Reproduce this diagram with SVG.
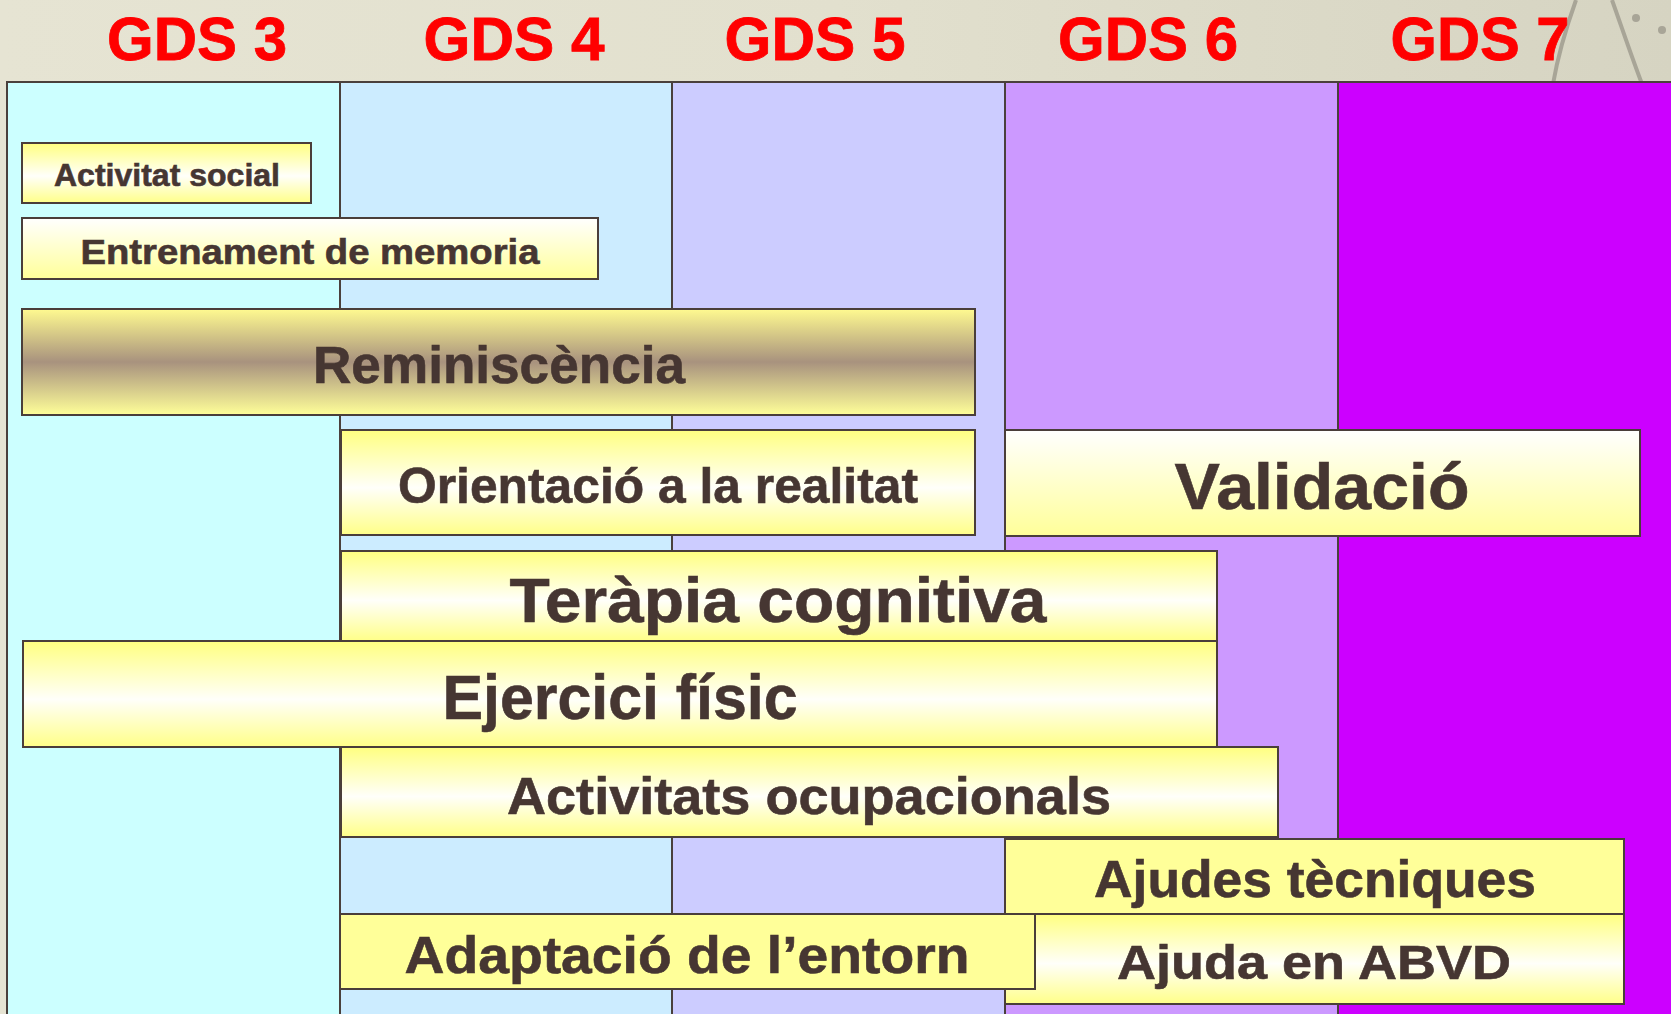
<svg xmlns="http://www.w3.org/2000/svg" width="1671" height="1014" viewBox="0 0 1671 1014">
  <defs>
    <linearGradient id="bg" x1="0" y1="0" x2="1" y2="0">
      <stop offset="0" stop-color="#E6E4D3"/>
      <stop offset="0.5" stop-color="#E2E0CE"/>
      <stop offset="1" stop-color="#D6D4C2"/>
    </linearGradient>
    <linearGradient id="yw" x1="0" y1="0" x2="0" y2="1">
      <stop offset="0" stop-color="#FFFF80"/>
      <stop offset="0.55" stop-color="#FFFFFA"/>
      <stop offset="1" stop-color="#FFFF88"/>
    </linearGradient>
    <linearGradient id="wy" x1="0" y1="0" x2="0" y2="1">
      <stop offset="0" stop-color="#FFFFFF"/>
      <stop offset="1" stop-color="#FFFF99"/>
    </linearGradient>
    <linearGradient id="rem" x1="0" y1="0" x2="0" y2="1">
      <stop offset="0" stop-color="#FFFA90"/>
      <stop offset="0.5" stop-color="#A8927E"/>
      <stop offset="1" stop-color="#FFFF99"/>
    </linearGradient>
    <style>
      .col { stroke: #4A403C; stroke-width: 2; }
      .box { stroke: #4A3E3A; stroke-width: 2; }
      .flat { fill: #FFFF99; }
      .hdr { font-family: "Liberation Sans", Arial, sans-serif; font-weight: bold; fill: #FF0000; stroke: #FF0000; stroke-width: 0.8; font-size: 62px; text-anchor: middle; }
      .lbl { font-family: "Liberation Sans", Arial, sans-serif; font-weight: bold; fill: #463632; stroke: #463632; stroke-width: 0.6; text-anchor: middle; }
    </style>
  </defs>

  <rect x="0" y="0" width="1671" height="1014" fill="url(#bg)"/>
  <path d="M1553,84 C1558,55 1566,28 1576,0 M1612,0 C1622,28 1632,58 1642,84" fill="none" stroke="#9C988C" stroke-width="4" opacity="0.8"/>
  <circle cx="1636" cy="18" r="4" fill="#9C988C" opacity="0.8"/>
  <circle cx="1662" cy="30" r="4" fill="#9C988C" opacity="0.8"/>

  <g id="columns">
    <rect class="col" x="7" y="82" width="333" height="940" fill="#CCFFFF"/>
    <rect class="col" x="340" y="82" width="332" height="940" fill="#CCECFF"/>
    <rect class="col" x="672" y="82" width="333" height="940" fill="#CCCCFF"/>
    <rect class="col" x="1005" y="82" width="333" height="940" fill="#CC99FF"/>
    <rect class="col" x="1338" y="82" width="340" height="940" fill="#CC00FF"/>
  </g>

  <g id="headers">
    <text class="hdr" x="197" y="60" textLength="180" lengthAdjust="spacingAndGlyphs">GDS 3</text>
    <text class="hdr" x="514" y="60" textLength="181" lengthAdjust="spacingAndGlyphs">GDS 4</text>
    <text class="hdr" x="815" y="60" textLength="181" lengthAdjust="spacingAndGlyphs">GDS 5</text>
    <text class="hdr" x="1148" y="60" textLength="180" lengthAdjust="spacingAndGlyphs">GDS 6</text>
    <text class="hdr" x="1480" y="60" textLength="179" lengthAdjust="spacingAndGlyphs">GDS 7</text>
  </g>

  <g id="connectors"></g>

  <g id="activitat-social">
    <rect class="box" x="22" y="143" width="289" height="60" fill="url(#yw)"/>
    <text class="lbl" x="167" y="186" font-size="31" textLength="226" lengthAdjust="spacingAndGlyphs">Activitat social</text>
  </g>
  <g id="entrenament-memoria">
    <rect class="box" x="22" y="218" width="576" height="61" fill="url(#wy)"/>
    <text class="lbl" x="310" y="264" font-size="35" textLength="459" lengthAdjust="spacingAndGlyphs">Entrenament de memoria</text>
  </g>
  <g id="reminiscencia">
    <rect class="box" x="22" y="309" width="953" height="106" fill="url(#rem)"/>
    <text class="lbl" x="499" y="383" font-size="51" textLength="372" lengthAdjust="spacingAndGlyphs">Reminiscència</text>
  </g>
  <g id="orientacio">
    <rect class="box" x="341" y="430" width="634" height="105" fill="url(#yw)"/>
    <text class="lbl" x="658" y="503" font-size="50" textLength="520" lengthAdjust="spacingAndGlyphs">Orientació a la realitat</text>
  </g>
  <g id="validacio">
    <rect class="box" x="1005" y="430" width="635" height="106" fill="url(#wy)"/>
    <text class="lbl" x="1322" y="509" font-size="65" textLength="295" lengthAdjust="spacingAndGlyphs">Validació</text>
  </g>
  <g id="terapia-cognitiva">
    <rect class="box" x="341" y="551" width="876" height="90" fill="url(#yw)"/>
    <text class="lbl" x="778" y="622" font-size="63" textLength="537" lengthAdjust="spacingAndGlyphs">Teràpia cognitiva</text>
  </g>
  <g id="ejercici-fisic">
    <rect class="box" x="23" y="641" width="1194" height="106" fill="url(#yw)"/>
    <text class="lbl" x="620" y="719" font-size="63" textLength="355" lengthAdjust="spacingAndGlyphs">Ejercici físic</text>
  </g>
  <g id="activitats-ocupacionals">
    <rect class="box" x="341" y="747" width="937" height="90" fill="url(#yw)"/>
    <text class="lbl" x="809" y="814" font-size="52" textLength="604" lengthAdjust="spacingAndGlyphs">Activitats ocupacionals</text>
  </g>
  <g id="ajudes-tecniques">
    <rect class="box flat" x="1005" y="839" width="619" height="75"/>
    <text class="lbl" x="1315" y="897" font-size="52" textLength="442" lengthAdjust="spacingAndGlyphs">Ajudes tècniques</text>
  </g>
  <g id="ajuda-abvd">
    <rect class="box" x="1005" y="914" width="619" height="90" fill="url(#yw)"/>
    <text class="lbl" x="1314" y="979" font-size="48" textLength="394" lengthAdjust="spacingAndGlyphs">Ajuda en ABVD</text>
  </g>
  <g id="adaptacio-entorn">
    <rect class="box flat" x="340" y="914" width="695" height="75"/>
    <text class="lbl" x="687" y="973" font-size="52" textLength="565" lengthAdjust="spacingAndGlyphs">Adaptació de l’entorn</text>
  </g>
</svg>
